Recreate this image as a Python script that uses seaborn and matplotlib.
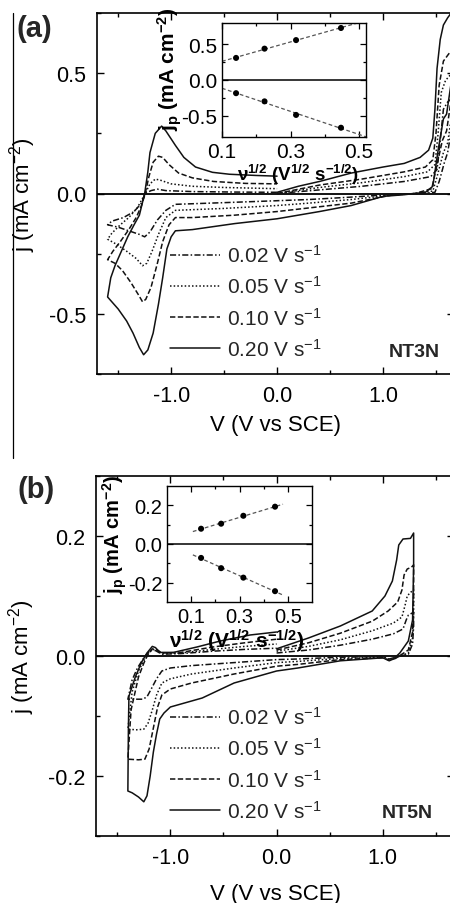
import numpy as np
import pandas as pd
import matplotlib
matplotlib.use("Agg")
import matplotlib.pyplot as plt
import seaborn as sns
from matplotlib.ticker import MultipleLocator, FixedLocator, FuncFormatter
from matplotlib.lines import Line2D

# ---------------- data ----------------
rate_labels = ["0.02 V s$^{-1}$", "0.05 V s$^{-1}$", "0.10 V s$^{-1}$", "0.20 V s$^{-1}$"]

# Panel (a) NT3N : potential V (V vs SCE), current density j (mA cm-2)
a_V_020 = [0.00, 0.20, 0.40, 0.70, 1.00, 1.20, 1.35, 1.43, 1.47, 1.49, 1.51, 1.54, 1.57, 1.61, 1.66,
           1.64, 1.60, 1.57, 1.52, 1.47, 1.40, 1.20, 1.00, 0.70, 0.40, 0.00, -0.40, -0.80, -0.96, -1.00, -1.04,
           -1.08, -1.12, -1.17, -1.22, -1.26, -1.30, -1.36, -1.42, -1.50, -1.60,
           -1.57, -1.53, -1.47, -1.41, -1.35, -1.30, -1.25, -1.22, -1.20, -1.15, -1.09, -1.05, -0.96, -0.88,
           -0.77, -0.61, -0.45, -0.20, 0.00]
a_j_020 = [0.005, 0.03, 0.05, 0.085, 0.11, 0.125, 0.15, 0.18, 0.23, 0.35, 0.52, 0.64, 0.70, 0.73, 0.76,
           0.45, 0.33, 0.31, 0.18, 0.03, 0.005, -0.005, -0.012, -0.05, -0.075, -0.105, -0.125, -0.15, -0.155, -0.18, -0.23,
           -0.35, -0.46, -0.58, -0.65, -0.67, -0.64, -0.58, -0.53, -0.48, -0.43,
           -0.35, -0.30, -0.24, -0.18, -0.13, -0.09, 0.00, 0.09, 0.17, 0.25, 0.28, 0.26, 0.20, 0.15,
           0.11, 0.088, 0.08, 0.075, 0.072]

a_V_010 = [0.00, 0.40, 0.80, 1.20, 1.40, 1.47, 1.50, 1.53, 1.57, 1.62, 1.66,
           1.64, 1.60, 1.56, 1.50, 1.46, 1.30, 1.10, 0.70, 0.30, 0.00, -0.40, -0.80, -0.96, -1.02, -1.08, -1.13,
           -1.19, -1.24, -1.27, -1.31, -1.38, -1.46, -1.53, -1.60,
           -1.55, -1.48, -1.40, -1.33, -1.28, -1.245, -1.21, -1.17, -1.12, -1.08, -1.02, -0.93, -0.80, -0.60, -0.30, 0.00]
a_j_010 = [0.00, 0.035, 0.06, 0.09, 0.11, 0.14, 0.25, 0.45, 0.55, 0.58, 0.60,
           0.38, 0.26, 0.22, 0.10, 0.02, 0.0, -0.005, -0.04, -0.06, -0.075, -0.09, -0.10, -0.10, -0.13, -0.20, -0.29,
           -0.39, -0.44, -0.45, -0.42, -0.37, -0.32, -0.29, -0.275,
           -0.24, -0.20, -0.15, -0.10, -0.05, 0.00, 0.07, 0.13, 0.155, 0.15, 0.12, 0.085, 0.065, 0.05, 0.042, 0.04]

a_V_005 = [0.00, 0.40, 0.80, 1.20, 1.42, 1.49, 1.52, 1.55, 1.59, 1.63, 1.66,
           1.64, 1.61, 1.57, 1.51, 1.47, 1.30, 1.05, 0.70, 0.30, 0.00, -0.50, -0.96, -1.05, -1.12, -1.18, -1.23,
           -1.27, -1.33, -1.42, -1.52, -1.60,
           -1.56, -1.48, -1.40, -1.32, -1.245, -1.20, -1.15, -1.10, -1.00, -0.80, -0.50, 0.00]
a_j_005 = [0.00, 0.025, 0.045, 0.07, 0.09, 0.12, 0.25, 0.42, 0.47, 0.49, 0.50,
           0.30, 0.21, 0.17, 0.07, 0.01, 0.0, -0.008, -0.025, -0.04, -0.05, -0.062, -0.07, -0.10, -0.17, -0.24, -0.29,
           -0.30, -0.27, -0.24, -0.21, -0.19,
           -0.165, -0.13, -0.10, -0.06, 0.00, 0.04, 0.06, 0.055, 0.04, 0.03, 0.025, 0.02]

a_V_002 = [0.00, 0.40, 0.80, 1.20, 1.45, 1.51, 1.54, 1.57, 1.61, 1.66,
           1.64, 1.61, 1.58, 1.53, 1.49, 1.30, 1.05, 0.70, 0.30, 0.00, -0.50, -0.96, -1.05, -1.13, -1.20, -1.25,
           -1.30, -1.40, -1.50, -1.60,
           -1.56, -1.45, -1.35, -1.28, -1.245, -1.19, -1.13, -1.05, -0.80, -0.40, 0.00]
a_j_002 = [0.00, 0.015, 0.03, 0.05, 0.07, 0.10, 0.22, 0.35, 0.38, 0.40,
           0.25, 0.17, 0.13, 0.05, 0.005, -0.002, -0.005, -0.015, -0.025, -0.03, -0.038, -0.045, -0.07, -0.11, -0.16, -0.18,
           -0.17, -0.155, -0.14, -0.13,
           -0.115, -0.10, -0.075, -0.04, 0.00, 0.012, 0.018, 0.012, 0.008, 0.006, 0.005]

# Panel (b) NT5N
b_V_020 = [0.00, 0.30, 0.60, 0.90, 1.02, 1.09, 1.13, 1.15, 1.19, 1.26, 1.29,
           1.29, 1.28, 1.24, 1.16, 1.10, 1.06, 1.00, 0.60, 0.20, 0.00, -0.40, -0.70, -0.90, -1.00, -1.06, -1.10,
           -1.13, -1.16, -1.19, -1.22, -1.25, -1.30, -1.36, -1.40,
           -1.395, -1.39, -1.33, -1.27, -1.22, -1.17, -1.14, -1.10, -0.97, -0.75, -0.53, -0.25, 0.00]
b_j_020 = [0.012, 0.03, 0.05, 0.075, 0.10, 0.125, 0.16, 0.185, 0.195, 0.196, 0.205,
           0.15, 0.06, 0.025, 0.005, -0.005, -0.008, -0.003, -0.008, -0.02, -0.025, -0.045, -0.07, -0.08, -0.085, -0.095, -0.105,
           -0.13, -0.16, -0.20, -0.233, -0.243, -0.235, -0.228, -0.225,
           -0.12, -0.067, -0.035, -0.01, 0.005, 0.016, 0.014, 0.006, 0.006, 0.015, 0.025, 0.035, 0.04]

b_V_010 = [0.00, 0.30, 0.60, 0.90, 1.05, 1.14, 1.18, 1.20, 1.23, 1.27, 1.29,
           1.29, 1.28, 1.24, 1.12, 1.06, 1.00, 0.60, 0.20, 0.00, -0.40, -0.80, -1.00, -1.08, -1.12, -1.16, -1.20,
           -1.24, -1.30, -1.40,
           -1.37, -1.30, -1.25, -1.21, -1.17, -1.13, -1.08, -0.90, -0.60, -0.30, 0.00]
b_j_010 = [0.01, 0.022, 0.038, 0.058, 0.075, 0.09, 0.11, 0.135, 0.145, 0.148, 0.152,
           0.10, 0.04, 0.01, -0.004, -0.007, -0.003, -0.006, -0.014, -0.017, -0.03, -0.045, -0.055, -0.065, -0.085, -0.12, -0.155,
           -0.172, -0.173, -0.172,
           -0.09, -0.035, -0.012, 0.003, 0.012, 0.011, 0.005, 0.006, 0.015, 0.022, 0.028]

b_V_005 = [0.00, 0.30, 0.60, 0.90, 1.10, 1.18, 1.21, 1.23, 1.26, 1.29,
           1.29, 1.28, 1.24, 1.12, 1.06, 1.00, 0.60, 0.20, 0.00, -0.40, -0.80, -1.00, -1.08, -1.13, -1.17, -1.21,
           -1.25, -1.32, -1.40,
           -1.36, -1.30, -1.25, -1.21, -1.17, -1.13, -1.08, -0.90, -0.60, -0.30, 0.00]
b_j_005 = [0.008, 0.016, 0.027, 0.042, 0.055, 0.065, 0.085, 0.10, 0.106, 0.11,
           0.07, 0.03, 0.005, -0.003, -0.006, -0.002, -0.004, -0.009, -0.011, -0.02, -0.03, -0.038, -0.045, -0.065, -0.09, -0.112,
           -0.122, -0.123, -0.122,
           -0.06, -0.025, -0.008, 0.003, 0.011, 0.01, 0.004, 0.005, 0.011, 0.016, 0.02]

b_V_002 = [0.00, 0.30, 0.60, 0.90, 1.10, 1.19, 1.22, 1.24, 1.27, 1.29,
           1.29, 1.28, 1.24, 1.12, 1.06, 1.00, 0.60, 0.20, 0.00, -0.40, -0.80, -1.00, -1.08, -1.13, -1.18, -1.22,
           -1.26, -1.33, -1.40,
           -1.36, -1.31, -1.26, -1.22, -1.18, -1.14, -1.08, -0.90, -0.60, -0.30, 0.00]
b_j_002 = [0.005, 0.01, 0.018, 0.028, 0.037, 0.045, 0.06, 0.068, 0.071, 0.073,
           0.05, 0.02, 0.003, -0.002, -0.005, -0.001, -0.002, -0.005, -0.006, -0.011, -0.016, -0.02, -0.025, -0.038, -0.055, -0.068,
           -0.072, -0.072, -0.072,
           -0.04, -0.02, -0.006, 0.004, 0.01, 0.009, 0.003, 0.004, 0.008, 0.011, 0.013]

# Insets: peak current vs square root of scan rate
inset_x = [0.141, 0.224, 0.316, 0.447]
ins_a_anodic = [0.31, 0.44, 0.56, 0.73]
ins_a_cathodic = [-0.185, -0.30, -0.49, -0.67]
ins_b_anodic = [0.079, 0.105, 0.146, 0.193]
ins_b_cathodic = [-0.072, -0.125, -0.174, -0.244]

# ---------------- styling ----------------
sns.set_theme(style="ticks")
plt.rcParams['font.family'] = ['Liberation Sans', 'DejaVu Sans']
plt.rcParams['mathtext.fontset'] = 'custom'
plt.rcParams['mathtext.rm'] = 'Liberation Sans'
plt.rcParams['mathtext.it'] = 'Liberation Sans:italic'
plt.rcParams['mathtext.bf'] = 'Liberation Sans:bold'
plt.rcParams['mathtext.default'] = 'regular'
plt.rcParams['axes.unicode_minus'] = False

INK = "#111111"
dash_map = {rate_labels[0]: (4, 1.5, 1, 1.5),
            rate_labels[1]: (1, 1.4),
            rate_labels[2]: (3.5, 1.6),
            rate_labels[3]: ""}


def build_df(curves):
    frames = []
    for lab, (V, j) in zip(rate_labels, curves):
        frames.append(pd.DataFrame({"V": V, "j": j, "rate": lab}))
    return pd.concat(frames, ignore_index=True)


df_a = build_df([(a_V_002, a_j_002), (a_V_005, a_j_005), (a_V_010, a_j_010), (a_V_020, a_j_020)])
df_b = build_df([(b_V_002, b_j_002), (b_V_005, b_j_005), (b_V_010, b_j_010), (b_V_020, b_j_020)])

W, H = 450, 904
fig = plt.figure(figsize=(W / 100, H / 100), dpi=100)


def px_rect(l, t, r, b):
    return [l / W, 1 - b / H, (r - l) / W, (b - t) / H]


fmt1 = FuncFormatter(lambda v, p: ("%.1f" % v).replace("-0.0", "0.0"))


def style_main(ax, ylim, ymaj, ymin_):
    ax.set_xlim(-1.70, 1.67)
    ax.set_ylim(*ylim)
    ax.xaxis.set_major_locator(MultipleLocator(1.0))
    ax.xaxis.set_minor_locator(MultipleLocator(0.5))
    ax.yaxis.set_major_locator(MultipleLocator(ymaj))
    ax.yaxis.set_minor_locator(MultipleLocator(ymin_))
    ax.xaxis.set_major_formatter(fmt1)
    ax.yaxis.set_major_formatter(fmt1)
    ax.tick_params(which='both', direction='in', top=True, right=True, colors='black',
                   labelsize=15.5, pad=8)
    ax.tick_params(which='major', length=5, width=1.0)
    ax.tick_params(which='minor', length=3, width=1.0)
    for s in ax.spines.values():
        s.set_linewidth(1.2)
        s.set_color('black')
    ax.axhline(0, color='black', lw=1.3, zorder=1)
    ax.set_xlabel("V (V vs SCE)", fontsize=16, color='black')
    ax.set_ylabel("j (mA cm$^{-2}$)", fontsize=16, color='black')


def main_panel(rect, df, ylim, ymaj, ymin_, leg_anchor, xlab_y):
    ax = fig.add_axes(rect)
    sns.lineplot(data=df, x="V", y="j", style="rate", style_order=rate_labels, dashes=dash_map,
                 sort=False, estimator=None, color=INK, lw=1.1, legend=False, ax=ax)
    style_main(ax, ylim, ymaj, ymin_)
    ax.xaxis.set_label_coords(0.5, xlab_y)
    ax.yaxis.set_label_coords(-0.165, 0.5)
    handles = []
    for lab in rate_labels:
        d = dash_map[lab]
        ls = '-' if d == "" else (0, d)
        handles.append(Line2D([], [], color=INK, lw=1.1, linestyle=ls))
    ax.legend(handles, rate_labels, loc='upper left', bbox_to_anchor=leg_anchor, frameon=False,
              fontsize=15, handlelength=2.4, handletextpad=0.35, labelspacing=0.45,
              borderpad=0, borderaxespad=0)
    return ax


def inset_panel(rect, xlim, ylim, xmaj, xmin_, ymaj, ymin_, up, dn, fit_range,
                xlab_xy, ylab_xy, tick_fs, xlab_fs, ylab_fs):
    ax = fig.add_axes(rect)
    ax.set_facecolor('white')
    ax.set_ylim(*ylim)
    ax.set_xlim(*fit_range)
    for yy in (up, dn):
        sns.regplot(x=np.array(inset_x), y=np.array(yy), ax=ax, ci=None, truncate=False,
                    scatter_kws=dict(s=19, color='black', zorder=3, edgecolors='none', alpha=1),
                    line_kws=dict(color='#555555', lw=0.9, ls=(0, (3, 2)), zorder=2))
    ax.set_xlim(*xlim)
    ax.set_ylim(*ylim)
    ax.axhline(0, color='black', lw=1.1, zorder=1)
    ax.xaxis.set_major_locator(FixedLocator(xmaj))
    ax.xaxis.set_minor_locator(FixedLocator(xmin_))
    ax.yaxis.set_major_locator(FixedLocator(ymaj))
    ax.yaxis.set_minor_locator(FixedLocator(ymin_))
    ax.xaxis.set_major_formatter(fmt1)
    ax.yaxis.set_major_formatter(fmt1)
    ax.tick_params(which='both', direction='in', top=True, right=True, colors='black',
                   labelsize=tick_fs, pad=3.5)
    ax.tick_params(which='major', length=4, width=0.9)
    ax.tick_params(which='minor', length=2.5, width=0.9)
    for s in ax.spines.values():
        s.set_linewidth(1.0)
        s.set_color('black')
    ax.set_xlabel(r"ν$^{\mathbf{1/2}}$ (V$^{\mathbf{1/2}}$ s$^{\mathbf{-1/2}}$)",
                  fontsize=xlab_fs, fontweight='bold', color='black')
    ax.set_ylabel(r"j$_{\mathbf{p}}$ (mA cm$^{\mathbf{-2}}$)",
                  fontsize=ylab_fs, fontweight='bold', color='black')
    ax.xaxis.set_label_coords(*xlab_xy)
    ax.yaxis.set_label_coords(*ylab_xy)
    return ax


ax_a = main_panel(px_rect(97, 14, 454, 375), df_a, (-0.75, 0.75), 0.5, 0.25, (0.205, 0.360), -0.11)
ax_b = main_panel(px_rect(96, 477, 454, 837), df_b, (-0.30, 0.30), 0.2, 0.1, (0.207, 0.361), -0.13)

in_a = inset_panel(px_rect(222, 24, 366, 138), (0.1, 0.52), (-0.8, 0.8),
                   [0.1, 0.3, 0.5], [0.2, 0.4], [-0.5, 0.0, 0.5], [-0.25, 0.25],
                   ins_a_anodic, ins_a_cathodic, (0.1, 0.52), (0.53, -0.215), (-0.265, 0.6),
                   15, 13.5, 15)
in_b = inset_panel(px_rect(167, 487, 312, 603), (0.0, 0.6), (-0.3, 0.3),
                   [0.1, 0.3, 0.5], [0.2, 0.4], [-0.2, 0.0, 0.2], [-0.1, 0.1],
                   ins_b_anodic, ins_b_cathodic, (0.107, 0.48), (0.48, -0.215), (-0.265, 0.59),
                   14.5, 15.0, 14.5)

# panel letters and sample names
fig.text(34 / W, 1 - 29 / H, "(a)", ha='center', va='center', fontsize=21, fontweight='bold')
fig.text(36 / W, 1 - 490 / H, "(b)", ha='center', va='center', fontsize=21, fontweight='bold')
fig.text(440 / W, 1 - 357 / H, "NT3N", ha='right', va='baseline', fontsize=14, fontweight='bold')
fig.text(433 / W, 1 - 818 / H, "NT5N", ha='right', va='baseline', fontsize=14, fontweight='bold')

# thin border line at the left of panel (a) as in the source image
fig.add_artist(Line2D([12.5 / W, 12.5 / W], [1 - 14 / H, 1 - 459 / H], color='black', lw=0.9))

fig.savefig("out.png", dpi=100, facecolor='white')
